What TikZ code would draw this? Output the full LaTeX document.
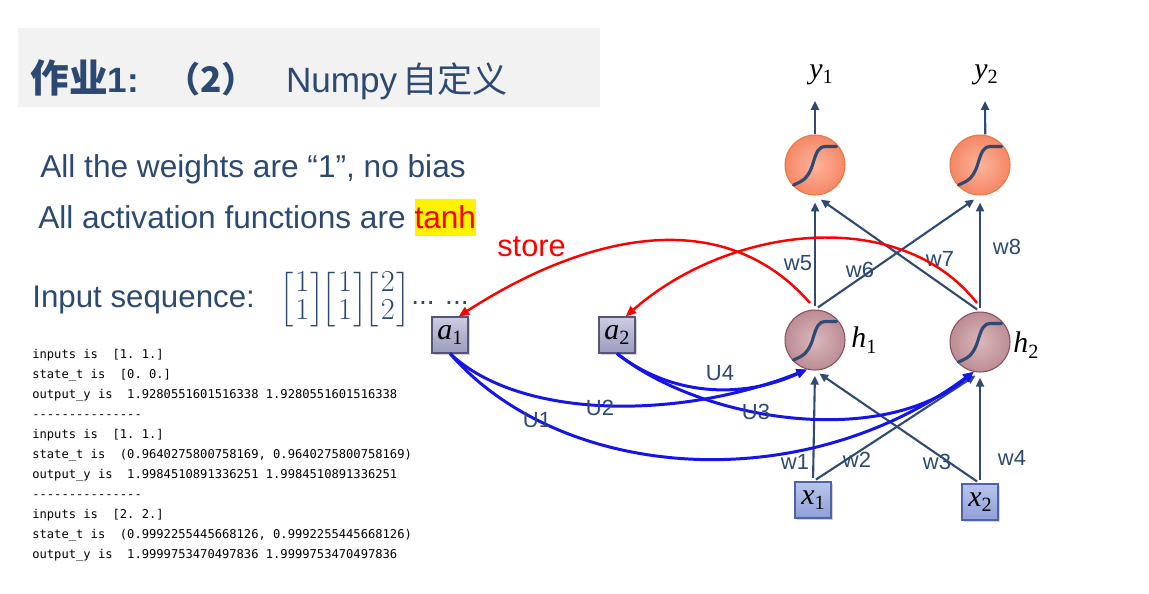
\documentclass[tikz,border=0pt]{standalone}
\usepackage{fontspec}
\usepackage{amsmath}
\setmainfont{Liberation Sans}
\setmonofont{DejaVu Sans Mono}
\newfontfamily\cjk{Noto Sans CJK SC}
\newfontfamily\lserif{Liberation Serif}
\usetikzlibrary{arrows.meta,shadows,calc}
\definecolor{tblue}{RGB}{44,73,114}
\definecolor{nblue}{RGB}{47,75,115}
\definecolor{ublue}{RGB}{20,20,235}
\definecolor{titlegray}{RGB}{242,242,242}
\definecolor{oborder}{RGB}{229,122,69}
\definecolor{oin}{RGB}{253,180,156}
\definecolor{oout}{RGB}{245,135,102}
\definecolor{hborder}{RGB}{140,78,90}
\definecolor{hin}{RGB}{218,184,188}
\definecolor{hout}{RGB}{188,140,148}
\definecolor{aborder}{RGB}{85,85,120}
\definecolor{atop}{RGB}{204,204,226}
\definecolor{abot}{RGB}{155,155,190}
\definecolor{xborder}{RGB}{80,99,168}
\definecolor{xtop}{RGB}{184,196,236}
\definecolor{xbot}{RGB}{143,160,216}
\newcommand\vlab[2]{{\lserif\fontsize{17}{17}\selectfont\itshape #1}{\raisebox{-3pt}{\lserif\fontsize{11.5}{11.5}\selectfont #2}}}
\newcommand\cvec[2]{\left[\begin{array}{@{\hspace{1pt}}c@{\hspace{1pt}}}#1\\#2\end{array}\right]}
\tikzset{
  outn/.style={circle,draw=oborder,line width=0.6pt,minimum size=1.2cm,inner color=oin,outer color=oout},
  hidn/.style={circle,draw=hborder,line width=0.6pt,minimum size=1.2cm,inner color=hin,outer color=hout},
  abox/.style={draw=aborder,line width=0.6pt,minimum size=0.72cm,inner sep=0pt,top color=atop,bottom color=abot,
    drop shadow={opacity=0.35,shadow xshift=1pt,shadow yshift=-1pt}},
  xbox/.style={draw=xborder,line width=0.6pt,minimum size=0.72cm,inner sep=0pt,top color=xtop,bottom color=xbot,
    drop shadow={opacity=0.35,shadow xshift=1pt,shadow yshift=-1pt}},
  netarrow/.style={draw=nblue,line width=1.2pt,-{Triangle[length=5pt,width=4.5pt]}},
  storearrow/.style={draw=red,line width=1.4pt,-{Triangle[length=6pt,width=5pt]}},
  uarrow/.style={draw=ublue,line width=1.7pt,-{Triangle[length=6pt,width=5pt]}},
  wlab/.style={text=tblue,font=\fontsize{12.5}{12.5}\selectfont,inner sep=0pt},
  codeline/.style={anchor=base west,inner sep=0pt,font=\ttfamily\fontsize{6.9}{8}\selectfont},
  bigtext/.style={anchor=base west,inner sep=0pt,text=tblue},
  sigm/.pic={\draw[nblue,line width=1.8pt,line cap=round]
    (-0.43cm,-0.40cm) .. controls (-0.28cm,-0.33cm) and (-0.15cm,-0.30cm) .. (-0.05cm,0cm)
    .. controls (0.03cm,0.28cm) and (0.08cm,0.37cm) .. (0.2cm,0.37cm) -- (0.43cm,0.37cm);}
}
\begin{document}
\begin{tikzpicture}[x=0.02cm,y=-0.02cm]
\useasboundingbox (0,0) rectangle (1149,593);
% title
\fill[titlegray] (18,28) rectangle (600,107);
\node[bigtext] (title) at (30,92) {\fontsize{20}{20}\selectfont{\cjk\bfseries\fontsize{22}{22}\selectfont 作业}{\bfseries 1:}\hspace{15pt}{\cjk\bfseries （2）}\hspace{11pt} Numpy\hspace{3pt}{\cjk 自定义}};
% text lines
\node[bigtext,font=\fontsize{18}{18}\selectfont] (l1) at (40,177) {All the weights are “1”, no bias};
\node[bigtext,font=\fontsize{18}{18}\selectfont] (l2) at (38,228) {All activation functions are {\setlength{\fboxsep}{0pt}\colorbox{yellow}{\rule[-4.5pt]{0pt}{21pt}\color{red}tanh}}};
\node[bigtext,font=\fontsize{17.5}{17.5}\selectfont,text=red] (store) at (497,256) {store};
\node[bigtext,font=\fontsize{17.8}{17.8}\selectfont] (inseq) at (32,307) {Input sequence:};
\node[inner sep=0pt,text=tblue,font=\fontsize{17.28}{18}\selectfont] (mats) at (345,300)
  {$\renewcommand\arraystretch{0.85}\cvec11\mskip-5mu\cvec11\mskip-5mu\cvec22$};
\node[bigtext,font=\fontsize{16}{16}\selectfont] (dots) at (411,304) {... ...};
% code output
\node[codeline] (c1) at (32,358) {inputs is\ \ [1. 1.]};
\node[codeline] (c2) at (32,378) {state\_t is\ \ [0. 0.]};
\node[codeline] (c3) at (32,398) {output\_y is\ \ 1.9280551601516338 1.9280551601516338};
\node[codeline] (c4) at (32,418) {---------------};
\node[codeline] (c5) at (32,438) {inputs is\ \ [1. 1.]};
\node[codeline] (c6) at (32,458) {state\_t is\ \ (0.9640275800758169, 0.9640275800758169)};
\node[codeline] (c7) at (32,478) {output\_y is\ \ 1.9984510891336251 1.9984510891336251};
\node[codeline] (c8) at (32,498) {---------------};
\node[codeline] (c9) at (32,518) {inputs is\ \ [2. 2.]};
\node[codeline] (c10) at (32,538) {state\_t is\ \ (0.9992255445668126, 0.9992255445668126)};
\node[codeline] (c11) at (32,558) {output\_y is\ \ 1.9999753470497836 1.9999753470497836};
% network nodes
\node[outn] (o1) at (815,165) {};
\node[outn] (o2) at (980,165) {};
\node[hidn] (h1) at (815,340) {};
\node[hidn] (h2) at (980,342) {};
\pic at (o1) {sigm};
\pic at (o2) {sigm};
\pic at (h1) {sigm};
\pic at (h2) {sigm};
\node[xbox] (x1) at (813,500) {\vlab{x}{1}};
\node[xbox] (x2) at (980,502) {\vlab{x}{2}};
\node[abox] (a1) at (450,335) {\vlab{a}{1}};
\node[abox] (a2) at (617,335) {\vlab{a}{2}};
\node[inner sep=0pt] (y1) at (821,75) {\vlab{y}{1}};
\node[inner sep=0pt] (y2) at (986,75) {\vlab{y}{2}};
\node[inner sep=0pt] (h1l) at (864,340) {\vlab{h}{1}};
\node[inner sep=0pt] (h2l) at (1026,345) {\vlab{h}{2}};
\coordinate (y1t) at (815,101);
\coordinate (y2t) at (985,101);
% output arrows
\draw[netarrow] (o1.north) -- (y1t);
\draw[netarrow] ([xshift=3pt]o2.north) -- (y2t);
% hidden to output
\draw[netarrow,shorten <=2pt,shorten >=4pt] (h1.north) -- (o1.south);
\draw[netarrow,shorten <=2pt,shorten >=4pt] (h1.north) -- (o2.south);
\draw[netarrow,shorten <=2pt,shorten >=4pt] (h2.north) -- (o1.south);
\draw[netarrow,shorten <=2pt,shorten >=4pt] (h2.north) -- (o2.south);
% input to hidden
\draw[netarrow,shorten <=2pt,shorten >=3pt] (x1.north) -- (h1.south);
\draw[netarrow,shorten <=2pt,shorten >=3pt] (x1.north) -- (h2.south);
\draw[netarrow,shorten <=2pt,shorten >=3pt] (x2.north) -- (h1.south);
\draw[netarrow,shorten <=2pt,shorten >=3pt] (x2.north) -- (h2.south);
% weight labels
\node[wlab] (w1) at (795,462) {w1};
\node[wlab] (w2) at (857,460) {w2};
\node[wlab] (w3) at (937,462) {w3};
\node[wlab] (w4) at (1012,458) {w4};
\node[wlab] (w5) at (798,263) {w5};
\node[wlab] (w6) at (860,270) {w6};
\node[wlab] (w7) at (940,259) {w7};
\node[wlab] (w8) at (1007,247) {w8};
% store arrows
\draw[storearrow] ([shift={(-5,-37)}]h1.center) .. controls (720,200) and (580,238) .. (a1.65);
\draw[storearrow] ([shift={(-3,-39)}]h2.center) .. controls (900,205) and (730,225) .. (a2.65);
% recurrent connections
\draw[uarrow] (a1.south) .. controls (520,420) and (680,420) .. (h1.255);
\draw[uarrow] (a1.south) .. controls (560,480) and (800,500) .. (h2.258);
\draw[uarrow] (a2.south) .. controls (670,395) and (740,400) .. (h1.255);
\draw[uarrow] (a2.south) .. controls (700,420) and (880,450) .. (h2.258);
\node[wlab] (u1) at (537,420) {U1};
\node[wlab] (u2) at (600,408) {U2};
\node[wlab] (u3) at (756,412) {U3};
\node[wlab] (u4) at (720,373) {U4};
\end{tikzpicture}
\end{document}
